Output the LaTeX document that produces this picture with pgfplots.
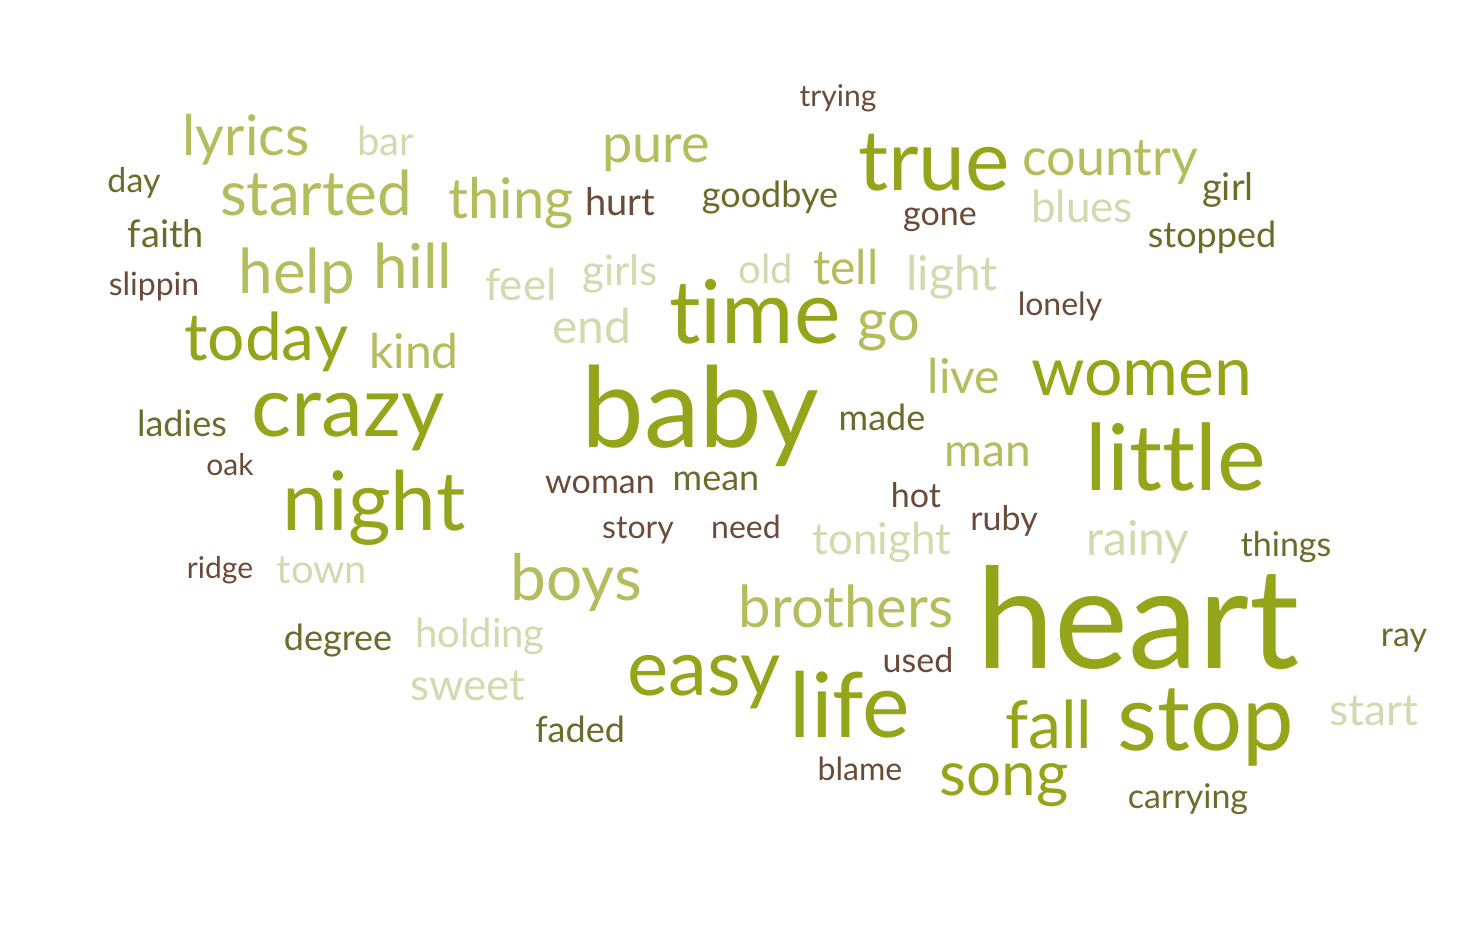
\documentclass[border=0pt]{standalone}
\usepackage{fontspec}
\setmainfont{Lato}[RawFeature={-liga;-dlig;-clig}]
\usepackage{pgfplots}
\pgfplotsset{compat=1.18}
\definecolor{cA}{HTML}{93A61A}
\definecolor{cB}{HTML}{B2BE5C}
\definecolor{cC}{HTML}{D3D9AE}
\definecolor{cD}{HTML}{6B6B2B}
\definecolor{cE}{HTML}{6B4A3A}
\begin{document}
\begin{tikzpicture}
\begin{axis}[width=741pt,height=464pt,scale only axis,hide axis,
 xmin=0,xmax=1482,ymin=0,ymax=928,y dir=reverse,clip=false]
\path (rel axis cs:0,0) rectangle (rel axis cs:1,1);
\addplot[draw=none,mark=none,
 visualization depends on={value \thisrow{w} \as \word},
 visualization depends on={value \thisrow{c} \as \col},
 visualization depends on={value \thisrow{s} \as \fs},
 nodes near coords={\word},
 every node near coord/.style={anchor=base,inner sep=0pt,text=\col,
   font=\fontsize{\fs pt}{\fs pt}\selectfont}]
table[x=x,y=y]{
x y s c w
838 106 15 cE trying
246 155 28 cB lyrics
386 155 20 cC bar
656 162 27 cB pure
934 190 42 cA true
1110 175 26 cB country
134 192 17 cD day
1228 200 19 cD girl
316 215 31 cB started
511 218 28 cB thing
620 215 19 cE hurt
770 207 18 cD goodbye
940 225 17 cE gone
1082 222 22 cC blues
166 247 19 cD faith
1212 247 18 cD stopped
297 293 31 cB help
413 288 31 cB hill
154 295 16 cE slippin
521 300 22 cC feel
620 285 21 cC girls
766 283 20 cC old
846 284 24 cB tell
952 290 24 cC light
1060 315 16 cE lonely
755 343 44 cA time
889 340 29 cB go
592 343 24 cC end
266 360 33 cA today
414 368 24 cB kind
700 447 56 cA baby
964 393 24 cB live
1142 395 34 cA women
348 436 42 cA crazy
182 436 18 cD ladies
882 430 18 cD made
988 466 23 cB man
1176 490 46 cA little
230 475 15 cE oak
374 530 41 cA night
600 493 17 cE woman
716 490 18 cD mean
916 507 17 cE hot
1004 530 17 cE ruby
638 538 16 cE story
746 538 16 cE need
882 554 22 cC tonight
1138 555 24 cC rainy
1286 556 17 cD things
220 578 15 cE ridge
322 583 20 cC town
576 600 32 cB boys
846 627 29 cB brothers
1138 668 70 cA heart
338 650 18 cD degree
480 647 20 cC holding
1404 646 17 cD ray
918 672 17 cE used
704 695 39 cA easy
468 700 22 cC sweet
850 737 45 cA life
1049 748 33 cA fall
1206 750 46 cA stop
1374 725 22 cC start
580 742 18 cD faded
860 780 16 cE blame
1004 795 31 cA song
1188 808 17 cD carrying
};
\end{axis}
\end{tikzpicture}
\end{document}
